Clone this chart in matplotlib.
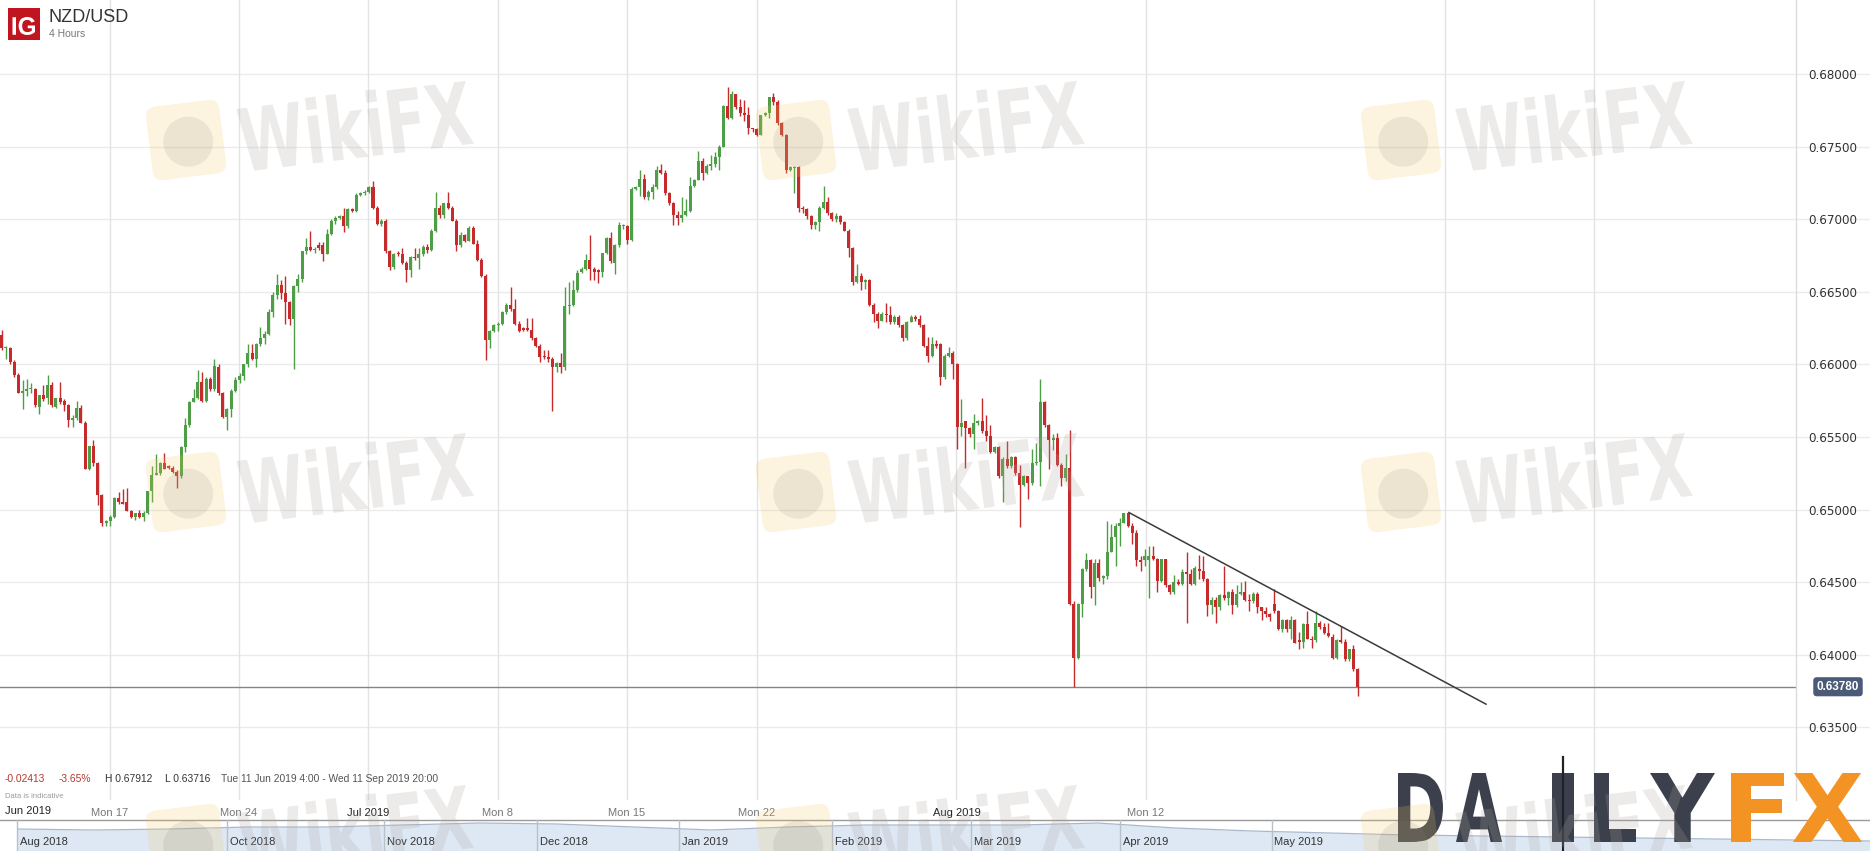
import matplotlib
matplotlib.use("Agg")
import matplotlib.pyplot as plt
import numpy as np
from matplotlib.textpath import TextPath
from matplotlib.font_manager import FontProperties
from matplotlib.patches import PathPatch, FancyBboxPatch, Rectangle, Circle
from matplotlib.transforms import Affine2D, blended_transform_factory

plt.rcParams['font.family'] = ['Liberation Sans', 'DejaVu Sans']

# ---------------- data (4-hour NZD/USD candles) ----------------
opens = [
 .6620,.6611,.6611,.6602,.6593,.6580,.6582,.6583,.6583,.6571,
 .6579,.6577,.6586,.6571,.6577,.6575,.6572,.6562,.6563,.6570,
 .6560,.6528,.6544,.6532,.6510,.6491,.6492,.6495,.6508,.6505,
 .6505,.6499,.6495,.6498,.6495,.6498,.6513,.6524,.6525,.6532,
 .6530,.6529,.6526,.6523,.6543,.6558,.6574,.6577,.6588,.6575,
 .6590,.6583,.6598,.6580,.6564,.6569,.6582,.6589,.6592,.6600,
 .6608,.6604,.6614,.6618,.6621,.6636,.6648,.6655,.6649,.6643,
 .6631,.6654,.6659,.6678,.6681,.6679,.6682,.6682,.6676,.6690,
 .6699,.6701,.6702,.6695,.6707,.6706,.6717,.6718,.6719,.6722,
 .6708,.6697,.6699,.6678,.6667,.6677,.6676,.6670,.6665,.6674,
 .6673,.6676,.6681,.6679,.6692,.6708,.6703,.6711,.6708,.6699,
 .6682,.6689,.6685,.6694,.6683,.6672,.6661,.6617,.6623,.6627,
 .6628,.6636,.6641,.6638,.6628,.6625,.6625,.6624,.6618,.6613,
 .6606,.6605,.6604,.6598,.6601,.6598,.6640,.6641,.6651,.6664,
 .6666,.6672,.6666,.6665,.6664,.6677,.6687,.6670,.6682,.6695,
 .6695,.6686,.6721,.6722,.6728,.6715,.6719,.6722,.6734,.6732,
 .6718,.6711,.6703,.6701,.6703,.6706,.6723,.6727,.6740,.6732,
 .6737,.6738,.6743,.6750,.6778,.6770,.6786,.6777,.6773,.6772,
 .6763,.6762,.6758,.6772,.6773,.6784,.6781,.6766,.6758,.6734,
 .6735,.6736,.6708,.6707,.6702,.6696,.6698,.6708,.6712,.6704,
 .6700,.6702,.6698,.6692,.6680,.6657,.6661,.6657,.6658,.6641,
 .6635,.6630,.6635,.6634,.6629,.6633,.6627,.6618,.6629,.6633,
 .6631,.6627,.6613,.6606,.6614,.6614,.6591,.6606,.6608,.6600,
 .6557,.6561,.6556,.6552,.6560,.6561,.6554,.6551,.6540,.6543,
 .6523,.6535,.6530,.6536,.6525,.6517,.6523,.6518,.6532,.6533,
 .6574,.6558,.6548,.6549,.6531,.6522,.6529,.6435,.6398,.6435,
 .6459,.6465,.6447,.6463,.6453,.6454,.6471,.6481,.6489,.6491,
 .6498,.6489,.6484,.6465,.6465,.6465,.6468,.6466,.6451,.6466,
 .6448,.6443,.6450,.6449,.6457,.6456,.6449,.6459,.6458,.6452,
 .6434,.6438,.6433,.6441,.6439,.6443,.6434,.6442,.6443,.6438,
 .6437,.6442,.6433,.6430,.6428,.6435,.6430,.6418,.6424,.6418,
 .6424,.6410,.6409,.6421,.6411,.6410,.6422,.6419,.6415,.6412,
 .6398,.6410,.6409,.6397,.6404,.6390]

highs = [
 .6624,.6613,.6612,.6603,.6594,.6589,.6590,.6587,.6584,.6579,
 .6586,.6593,.6588,.6577,.6588,.6576,.6573,.6565,.6575,.6572,
 .6561,.6544,.6548,.6533,.6511,.6493,.6496,.6509,.6512,.6514,
 .6515,.6500,.6498,.6500,.6499,.6513,.6530,.6538,.6533,.6539,
 .6531,.6530,.6527,.6544,.6563,.6575,.6583,.6596,.6595,.6591,
 .6591,.6604,.6600,.6581,.6570,.6583,.6591,.6594,.6600,.6614,
 .6614,.6615,.6626,.6623,.6638,.6650,.6662,.6658,.6661,.6644,
 .6655,.6662,.6678,.6687,.6692,.6681,.6684,.6684,.6693,.6700,
 .6702,.6703,.6708,.6708,.6708,.6718,.6719,.6720,.6723,.6726,
 .6709,.6700,.6700,.6679,.6677,.6678,.6680,.6671,.6675,.6680,
 .6680,.6682,.6683,.6693,.6719,.6710,.6711,.6719,.6709,.6700,
 .6691,.6690,.6695,.6695,.6686,.6673,.6662,.6624,.6628,.6629,
 .6637,.6642,.6653,.6645,.6630,.6626,.6632,.6632,.6619,.6614,
 .6610,.6610,.6605,.6602,.6608,.6653,.6657,.6658,.6665,.6667,
 .6676,.6689,.6667,.6666,.6677,.6688,.6691,.6683,.6698,.6697,
 .6696,.6722,.6723,.6734,.6731,.6720,.6724,.6737,.6738,.6734,
 .6719,.6712,.6706,.6715,.6714,.6729,.6728,.6747,.6742,.6738,
 .6744,.6746,.6751,.6779,.6791,.6788,.6786,.6783,.6782,.6777,
 .6763,.6763,.6772,.6774,.6784,.6787,.6782,.6767,.6759,.6737,
 .6737,.6737,.6709,.6708,.6703,.6699,.6709,.6723,.6715,.6705,
 .6704,.6703,.6699,.6693,.6681,.6669,.6663,.6659,.6659,.6642,
 .6636,.6636,.6642,.6640,.6634,.6634,.6628,.6630,.6634,.6634,
 .6634,.6628,.6619,.6619,.6617,.6615,.6607,.6612,.6609,.6601,
 .6576,.6561,.6557,.6566,.6562,.6577,.6565,.6558,.6544,.6544,
 .6536,.6547,.6537,.6537,.6531,.6524,.6523,.6542,.6546,.6590,
 .6575,.6559,.6552,.6553,.6532,.6538,.6555,.6437,.6436,.6460,
 .6470,.6466,.6466,.6466,.6455,.6492,.6490,.6491,.6494,.6498,
 .6498,.6491,.6486,.6468,.6473,.6475,.6475,.6467,.6466,.6466,
 .6449,.6455,.6452,.6459,.6471,.6459,.6461,.6469,.6468,.6453,
 .6440,.6440,.6442,.6461,.6444,.6445,.6448,.6450,.6451,.6442,
 .6443,.6443,.6433,.6433,.6429,.6445,.6431,.6425,.6425,.6427,
 .6425,.6416,.6422,.6430,.6413,.6430,.6423,.6422,.6422,.6414,
 .6411,.6420,.6411,.6404,.6407,.6391]

lows = [
 .6610,.6604,.6600,.6591,.6580,.6569,.6578,.6580,.6571,.6566,
 .6575,.6573,.6571,.6570,.6573,.6568,.6557,.6557,.6562,.6560,
 .6528,.6527,.6530,.6503,.6489,.6489,.6489,.6494,.6504,.6504,
 .6499,.6494,.6493,.6494,.6492,.6497,.6505,.6524,.6524,.6528,
 .6528,.6525,.6515,.6522,.6540,.6557,.6574,.6576,.6574,.6574,
 .6582,.6582,.6579,.6563,.6555,.6564,.6581,.6587,.6589,.6598,
 .6603,.6598,.6613,.6614,.6620,.6633,.6645,.6645,.6628,.6627,
 .6597,.6650,.6657,.6676,.6678,.6677,.6679,.6671,.6676,.6689,
 .6697,.6700,.6691,.6694,.6705,.6705,.6716,.6717,.6718,.6707,
 .6696,.6695,.6677,.6665,.6666,.6675,.6669,.6657,.6660,.6672,
 .6666,.6675,.6677,.6678,.6691,.6701,.6701,.6707,.6699,.6678,
 .6681,.6684,.6685,.6683,.6671,.6660,.6603,.6611,.6622,.6623,
 .6627,.6635,.6637,.6627,.6622,.6623,.6623,.6617,.6612,.6602,
 .6604,.6602,.6568,.6595,.6594,.6596,.6635,.6640,.6650,.6663,
 .6665,.6658,.6658,.6656,.6660,.6676,.6670,.6662,.6681,.6693,
 .6683,.6685,.6720,.6716,.6714,.6713,.6714,.6721,.6731,.6717,
 .6710,.6696,.6696,.6698,.6702,.6705,.6722,.6727,.6727,.6731,
 .6734,.6736,.6734,.6750,.6769,.6769,.6776,.6771,.6768,.6759,
 .6760,.6757,.6758,.6771,.6770,.6779,.6765,.6757,.6732,.6733,
 .6718,.6705,.6704,.6700,.6693,.6693,.6692,.6707,.6703,.6699,
 .6698,.6697,.6692,.6674,.6655,.6656,.6651,.6652,.6640,.6629,
 .6625,.6630,.6629,.6628,.6628,.6626,.6616,.6617,.6629,.6630,
 .6626,.6612,.6602,.6605,.6611,.6586,.6590,.6605,.6590,.6542,
 .6551,.6529,.6550,.6542,.6558,.6553,.6547,.6539,.6539,.6522,
 .6505,.6529,.6529,.6524,.6488,.6516,.6507,.6517,.6531,.6516,
 .6557,.6528,.6541,.6530,.6516,.6520,.6434,.6378,.6397,.6426,
 .6458,.6439,.6434,.6451,.6449,.6452,.6471,.6461,.6475,.6491,
 .6488,.6476,.6461,.6458,.6461,.6439,.6465,.6443,.6450,.6447,
 .6442,.6442,.6448,.6448,.6422,.6448,.6448,.6452,.6451,.6427,
 .6428,.6422,.6431,.6438,.6434,.6428,.6433,.6441,.6437,.6430,
 .6436,.6429,.6424,.6426,.6423,.6429,.6417,.6416,.6416,.6411,
 .6408,.6404,.6405,.6411,.6405,.6409,.6418,.6414,.6412,.6397,
 .6397,.6408,.6396,.6396,.6389,.63716]

closes = [
 .6611,.6612,.6602,.6593,.6580,.6582,.6583,.6584,.6572,.6579,
 .6576,.6586,.6572,.6577,.6574,.6572,.6562,.6563,.6570,.6560,
 .6528,.6544,.6532,.6510,.6491,.6492,.6495,.6508,.6505,.6504,
 .6499,.6495,.6498,.6495,.6498,.6513,.6524,.6525,.6532,.6528,
 .6529,.6526,.6523,.6543,.6558,.6574,.6577,.6588,.6575,.6590,
 .6583,.6599,.6580,.6564,.6569,.6582,.6589,.6592,.6600,.6608,
 .6604,.6614,.6618,.6621,.6636,.6648,.6655,.6649,.6643,.6631,
 .6654,.6659,.6678,.6681,.6679,.6679,.6680,.6676,.6690,.6699,
 .6701,.6702,.6695,.6707,.6706,.6717,.6718,.6719,.6722,.6708,
 .6697,.6699,.6678,.6667,.6676,.6676,.6670,.6665,.6674,.6673,
 .6676,.6681,.6679,.6692,.6708,.6703,.6711,.6708,.6699,.6682,
 .6689,.6685,.6694,.6683,.6672,.6661,.6617,.6623,.6627,.6628,
 .6636,.6641,.6638,.6628,.6623,.6624,.6624,.6618,.6613,.6605,
 .6605,.6604,.6598,.6601,.6598,.6640,.6641,.6651,.6663,.6666,
 .6672,.6666,.6664,.6664,.6677,.6687,.6671,.6682,.6696,.6696,
 .6686,.6721,.6722,.6728,.6715,.6719,.6722,.6734,.6732,.6718,
 .6711,.6703,.6701,.6703,.6706,.6723,.6727,.6740,.6732,.6737,
 .6738,.6743,.6750,.6778,.6770,.6786,.6777,.6773,.6772,.6763,
 .6762,.6758,.6772,.6773,.6784,.6781,.6766,.6758,.6734,.6736,
 .6736,.6708,.6707,.6702,.6696,.6698,.6708,.6712,.6704,.6700,
 .6702,.6698,.6692,.6680,.6657,.6661,.6657,.6658,.6641,.6635,
 .6630,.6635,.6634,.6629,.6633,.6627,.6618,.6629,.6633,.6631,
 .6627,.6613,.6606,.6614,.6613,.6591,.6606,.6608,.6600,.6557,
 .6560,.6556,.6552,.6560,.6561,.6554,.6551,.6540,.6543,.6523,
 .6535,.6530,.6536,.6525,.6517,.6523,.6518,.6532,.6533,.6574,
 .6558,.6548,.6549,.6531,.6522,.6529,.6435,.6398,.6435,.6459,
 .6465,.6447,.6463,.6453,.6454,.6471,.6481,.6489,.6491,.6498,
 .6489,.6484,.6465,.6464,.6468,.6468,.6466,.6451,.6466,.6448,
 .6443,.6450,.6449,.6457,.6456,.6449,.6460,.6458,.6452,.6434,
 .6438,.6433,.6441,.6439,.6443,.6434,.6442,.6443,.6438,.6437,
 .6442,.6433,.6430,.6428,.6426,.6430,.6418,.6424,.6418,.6424,
 .6408,.6409,.6421,.6411,.6410,.6422,.6419,.6415,.6413,.6398,
 .6410,.6409,.6397,.6404,.6390,.6378]

# x-axis ticks (candle index) and labels
tick_pos = [25.96, 56.76, 87.92, 118.96, 149.88, 181.04, 228.86, 274.28, 345.95, 381.66]
tick_labels = ["Mon 17", "Mon 24", "Jul 2019", "Mon 8", "Mon 15", "Mon 22",
               "Aug 2019", "Mon 12", "", ""]
first_label = "Jun 2019"
y_ticks = [0.635, 0.640, 0.645, 0.650, 0.655, 0.660, 0.665, 0.670, 0.675, 0.680]
last_price = 0.6378
trend_x = [270.2, 355.8]
trend_y = [0.6498, 0.6366]

stats_change = "-0.02413"
stats_pct = "-3.65%"
stats_high = "H 0.67912"
stats_low = "L 0.63716"
stats_range = "Tue 11 Jun 2019 4:00 - Wed 11 Sep 2019 20:00"

nav_labels = ["Aug 2018", "Oct 2018", "Nov 2018", "Dec 2018", "Jan 2019",
              "Feb 2019", "Mar 2019", "Apr 2019", "May 2019"]
nav_prices = [.6845, .6830, .6845, .6875, .6875, .6905, .6935, .6920, .6875,
              .6830, .6875, .6905, .6905, .6905, .6935, .6860, .6815, .6785,
              .6755, .6740, .6725, .6710, .6695, .6680, .6665]

GREEN = '#4d9e47'
RED = '#c62a2a'

# ---------------- figure ----------------
W, H = 1870, 851
fig = plt.figure(figsize=(W / 100, H / 100), dpi=100)
fig.patch.set_facecolor('white')


def px_rect(x0, y0, x1, y1):
    return [x0 / W, 1 - y1 / H, (x1 - x0) / W, (y1 - y0) / H]


def pixel_axes(z):
    a = fig.add_axes([0, 0, 1, 1], zorder=z)
    a.set_xlim(0, W)
    a.set_ylim(H, 0)
    a.axis('off')
    return a


def fit_text(axx, s, x0, x1, y0, y1, color, alpha=1.0, rot=0.0,
             family='DejaVu Sans', weight='bold', z=5):
    tp = TextPath((0, 0), s, size=100, prop=FontProperties(family=family, weight=weight))
    bb = tp.get_extents()
    sx = (x1 - x0) / bb.width
    sy = (y1 - y0) / bb.height
    tr = Affine2D().translate(-bb.x0 - bb.width / 2, -bb.y0 - bb.height / 2).scale(sx, -sy)
    if rot:
        tr = tr.rotate_deg(rot)
    tr = tr.translate((x0 + x1) / 2, (y0 + y1) / 2)
    axx.add_patch(PathPatch(tp, transform=tr + axx.transData, fc=color, ec='none',
                            alpha=alpha, zorder=z, lw=0))


# ---------------- main price axes ----------------
ax = fig.add_axes(px_rect(0, 0, 1796, 800), zorder=1)
ax.patch.set_alpha(0)
ax.set_xlim(-0.41, 430.1)
ax.set_ylim(0.6300, 0.6851)
for side in ['left', 'top', 'bottom']:
    ax.spines[side].set_visible(False)
ax.spines['right'].set_color('#dcdcdc')
ax.spines['right'].set_linewidth(1)

for yv in y_ticks:
    ax.axhline(yv, xmin=0, xmax=W / 1796, color='#ebebeb', lw=1, clip_on=False, zorder=0)
for xv in tick_pos:
    ax.axvline(xv, color='#e3e3e3', lw=1, zorder=0)

ax.yaxis.tick_right()
ax.set_yticks(y_ticks)
ax.set_yticklabels([f"{v:.5f}" for v in y_ticks], fontfamily='DejaVu Sans')
ax.tick_params(axis='y', length=0, pad=8.5, labelsize=8.6, labelcolor='#333333')
ax.set_xticks(tick_pos)
ax.set_xticklabels(tick_labels)
ax.tick_params(axis='x', length=0, pad=5.5, labelsize=8)
for lab in ax.get_xticklabels():
    if lab.get_text().startswith('Mon'):
        lab.set_color('#777777')
    else:
        lab.set_color('#222222')

o = np.array(opens); h = np.array(highs); l = np.array(lows); c = np.array(closes)
assert len(o) == len(h) == len(l) == len(c), (len(o), len(h), len(l), len(c))
x = np.arange(len(o))
cols = np.where(c >= o, GREEN, RED)
ax.vlines(x, l, h, colors=cols, lw=1.0, zorder=2)
bottoms = np.minimum(o, c)
heights = np.maximum(np.abs(c - o), 0.00004)
ax.bar(x, heights, bottom=bottoms, width=0.72, color=cols, lw=0, zorder=3)

ax.axhline(last_price, color='#858585', lw=1, zorder=1.5)
ax.plot(trend_x, trend_y, color='#3a3a3a', lw=1.1, zorder=4)

# last price badge
btr = blended_transform_factory(fig.transFigure, ax.transData)
ax.text(1838 / W, last_price, f"{last_price:.5f}", transform=btr, ha='center', va='center',
        color='white', fontsize=8.5, fontweight='bold', clip_on=False, zorder=10,
        bbox=dict(boxstyle='round,pad=0.3,rounding_size=0.3', fc='#4b5a77', ec='none'))

# ---------------- top overlay: header, stats, navigator, logos ----------------
axtop = pixel_axes(3)

axtop.add_patch(Rectangle((8, 8), 32, 32, fc='#c0141f', ec='none', zorder=5))
fit_text(axtop, "IG", 12.5, 35, 17, 35, 'white', family='Liberation Sans', z=6)
axtop.text(49, 17, "NZD/USD", fontsize=13, color='#333333', va='center', ha='left')
axtop.text(49, 34, "4 Hours", fontsize=7.5, color='#777777', va='center', ha='left')

sty = 779
axtop.text(5, sty, stats_change, fontsize=7.4, color='#b8382e', va='center')
axtop.text(59, sty, stats_pct, fontsize=7.4, color='#b8382e', va='center')
axtop.text(105, sty, stats_high, fontsize=7.4, color='#333333', va='center')
axtop.text(165, sty, stats_low, fontsize=7.4, color='#333333', va='center')
axtop.text(221, sty, stats_range, fontsize=7.4, color='#555555', va='center')
axtop.text(5, 796, "Data is indicative", fontsize=5.5, color='#999999', va='center')
axtop.text(5, 811, first_label, fontsize=8, color='#222222', va='center', ha='left')

# navigator strip
axnav = fig.add_axes(px_rect(16.5, 820, W, 851), zorder=2)
axnav.set_xlim(0, len(nav_prices) - 1)
axnav.set_ylim(0.6515, 0.698)
axnav.axis('off')
nx = np.arange(len(nav_prices))
axnav.fill_between(nx, nav_prices, 0.6515, color='#dde8f4', lw=0)
axnav.plot(nx, nav_prices, color='#a9b9cb', lw=0.9)

axtop.plot([0, W], [820, 820], color='#9a9a9a', lw=1, zorder=4)
nav_sep = [16.5, 227, 384, 537, 679, 832, 971, 1120, 1271.5]
for sx, lab in zip(nav_sep, nav_labels):
    axtop.plot([sx, sx], [820, 851], color='#b8c0c8', lw=1, zorder=4)
    axtop.text(sx + 3, 842, lab, fontsize=8, color='#333333', va='center', ha='left', zorder=4)

# DailyFX logo
dark = '#3b404c'
orange = '#f39323'
ly0, ly1 = 773, 842
fit_text(axtop, "D", 1398, 1443, ly0, ly1, dark, z=7)
fit_text(axtop, "A", 1456, 1502, ly0, ly1, dark, z=7)
axtop.add_patch(Rectangle((1552, ly0), 22, ly1 - ly0, fc=dark, ec='none', zorder=7))
axtop.plot([1563, 1563], [757, 851], color='#1f2229', lw=1.6, zorder=8)
fit_text(axtop, "L", 1594, 1636, ly0, ly1, dark, z=7)
fit_text(axtop, "Y", 1650, 1715, ly0, ly1, dark, z=7)
fit_text(axtop, "F", 1731, 1784, ly0, ly1, orange, z=7)
fit_text(axtop, "X", 1793, 1862, ly0, ly1, orange, z=7)

# ---------------- WikiFX watermarks (overlay) ----------------
axwm = pixel_axes(5)
ang = -7
for sq_x, tx_x in [(186, 355), (796, 966), (1401, 1574)]:
    for sq_y in [140, 492, 844]:
        rot = Affine2D().rotate_deg_around(sq_x, sq_y, ang) + axwm.transData
        sq = FancyBboxPatch((sq_x - 37, sq_y - 37), 74, 74,
                            boxstyle='round,pad=0,rounding_size=10',
                            fc='#f5c864', ec='none', alpha=0.2, zorder=1)
        sq.set_transform(rot)
        axwm.add_patch(sq)
        ci = Circle((sq_x + 2, sq_y + 2), 25, fc='#8a8078', ec='none', alpha=0.14, zorder=2)
        ci.set_transform(rot)
        axwm.add_patch(ci)
        ty = sq_y - 15
        fit_text(axwm, "WikiFX", tx_x - 116, tx_x + 116, ty - 33, ty + 33,
                 '#b0a6a2', alpha=0.22, rot=ang, z=3)

fig.savefig("out.png", dpi=100, facecolor='white')
